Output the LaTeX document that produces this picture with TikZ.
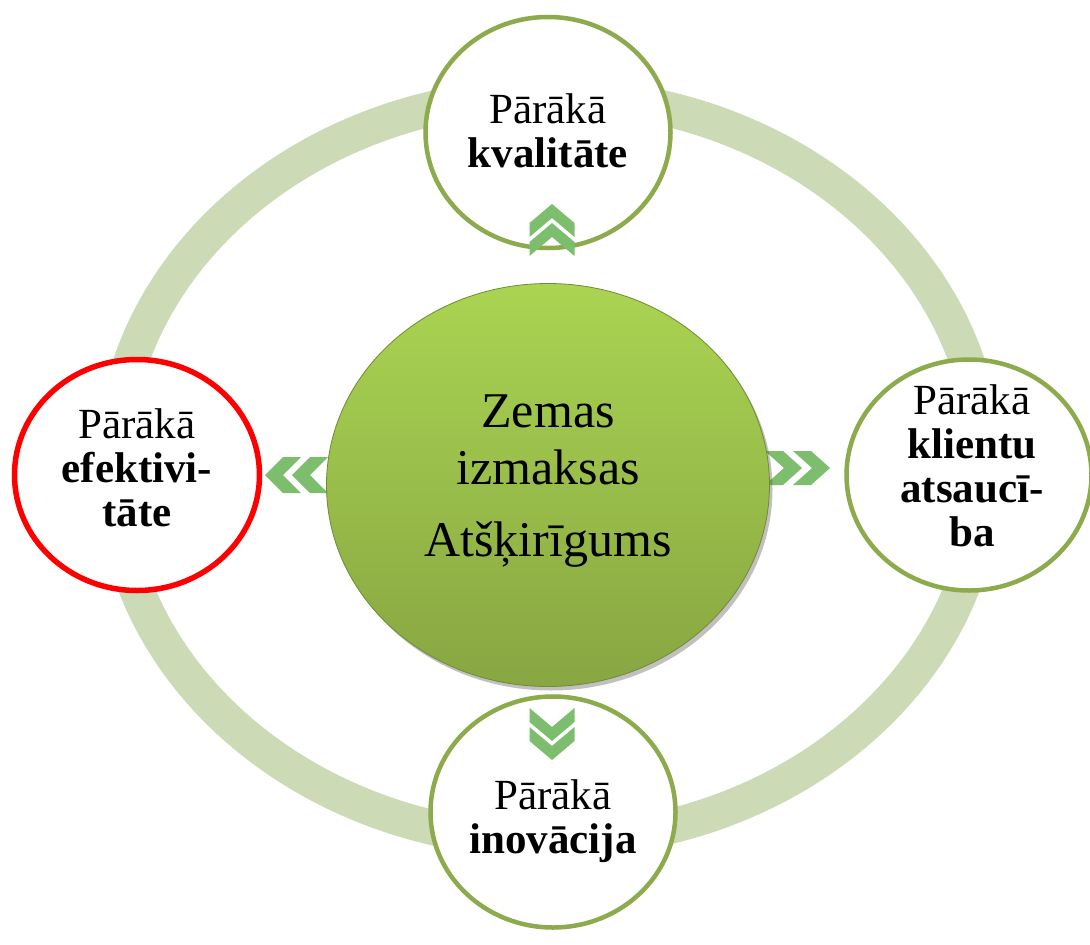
\documentclass[tikz,border=0pt]{standalone}
\usepackage{fontspec}
\setmainfont{Liberation Serif}
\usetikzlibrary{shapes.geometric,shadows}
\definecolor{ringc}{RGB}{204,218,182}
\definecolor{olivec}{RGB}{141,170,77}
\definecolor{chevc}{RGB}{125,190,110}
\definecolor{ctop}{RGB}{170,212,82}
\definecolor{cbot}{RGB}{136,166,66}
\definecolor{cedge}{RGB}{110,140,50}
\definecolor{credc}{RGB}{255,0,0}
\newcommand\mychev[3]{\fill[chevfill] (0,0) -- (-#1/2,#2) -- (-#1/2,#2+#3) -- (0,#3) -- (#1/2,#2+#3) -- (#1/2,#2) -- cycle;}
\begin{document}
\begin{tikzpicture}[x=1pt,y=-1pt,
  outer/.style={ellipse, draw=olivec, line width=4.5pt, fill=white,
    minimum width=245pt, minimum height=231pt, inner sep=0pt},
  redouter/.style={outer, draw=credc, line width=5.5pt},
  lbl/.style={align=center, font=\fontsize{43}{44}\selectfont},
  chevfill/.style={fill=chevc},
  ringstyle/.style={draw=ringc, line width=35pt},
  hub/.style={ellipse, minimum width=443pt, minimum height=403pt, inner sep=0pt,
    top color=ctop, bottom color=cbot, draw=cedge, line width=0.8pt,
    drop shadow={shadow xshift=3pt, shadow yshift=-4pt, opacity=0.35, fill=black!70}},
  hublbl/.style={align=center, font=\fontsize{50}{57}\selectfont}]
\useasboundingbox (0,0) rectangle (1090,945);
\fill[white] (0,0) rectangle (1090,945);
% ring
\draw[ringstyle] (549,468) ellipse [x radius=436pt, y radius=373pt];
% outer circles
\node[outer] (top) at (548,132.5) {};
\node[redouter] (left) at (137,475) {};
\node[outer] (right) at (969,475) {};
\node[outer] (bottom) at (553,812) {};
% chevrons
\begin{scope}[shift={(552,204)}]
  \mychev{45}{19}{14}
  \begin{scope}[yshift=-19pt]\mychev{45}{19}{14}\end{scope}
\end{scope}
\begin{scope}[shift={(552,760)}, rotate=180]
  \mychev{45}{19}{14}
  \begin{scope}[yshift=-19pt]\mychev{45}{19}{14}\end{scope}
\end{scope}
\begin{scope}[shift={(265,475)}, rotate=90]
  \mychev{36}{18}{18}
  \begin{scope}[yshift=-27pt]\mychev{36}{18}{18}\end{scope}
\end{scope}
\begin{scope}[shift={(830,468)}, rotate=-90]
  \mychev{34}{19}{18}
  \begin{scope}[yshift=-28pt]\mychev{34}{19}{18}\end{scope}
\end{scope}
% hub
\node[hub] (hub) at (548,485) {};
% labels
\node[hublbl] (hubtxt) at (548,481.5) {Zemas\\izmaksas\\[15pt]Atšķirīgums};
\node[lbl] (toptxt) at (548,130.5) {Pārākā\\\textbf{kvalitāte}};
\node[lbl] (lefttxt) at (137,468) {Pārākā\\\textbf{efektivi-}\\\textbf{tāte}};
\node[lbl] (righttxt) at (972,466) {Pārākā\\\textbf{klientu}\\\textbf{atsaucī-}\\\textbf{ba}};
\node[lbl] (bottxt) at (553,821) {Pārākā\\\textbf{inovācija}};
\end{tikzpicture}
\end{document}
